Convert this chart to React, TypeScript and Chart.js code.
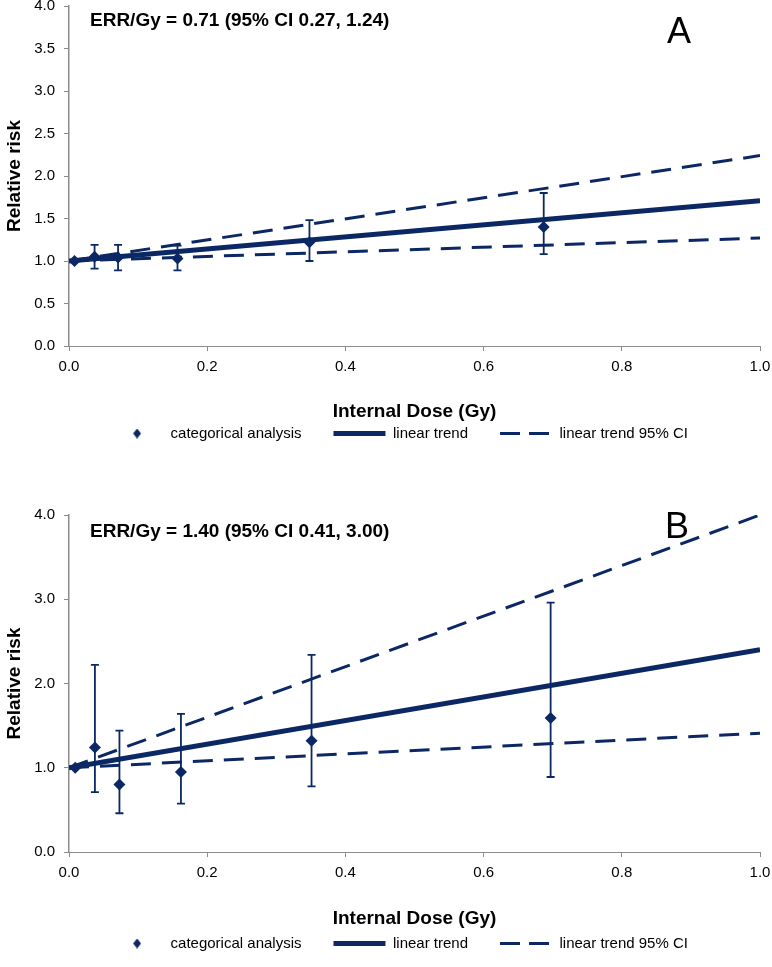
import React, { useEffect, useRef } from 'react';
import { Chart, registerables } from 'chart.js';

Chart.register(...registerables);

const NAVY = '#0b2865';
const AXIS = '#8c8c8c';
const FONT = '"Liberation Sans", Arial, Helvetica, sans-serif';

// shared
const trendDose = [0, 1];
const xTicksStep = 0.2;
const legendLabels = ['categorical analysis', 'linear trend', 'linear trend 95% CI'];

// Panel A
const errTextA = 'ERR/Gy = 0.71 (95% CI 0.27, 1.24)';
const doseA = [0.008, 0.037, 0.071, 0.157, 0.348, 0.687];
const rrA = [1.0, 1.05, 1.04, 1.03, 1.22, 1.40];
const lowA = [null, 0.91, 0.89, 0.89, 1.0, 1.08];
const highA = [null, 1.19, 1.19, 1.18, 1.48, 1.8];
const trendA = [1.0, 1.71];
const ciHighA = [1.0, 2.24];
const ciLowA = [1.0, 1.27];

// Panel B
const errTextB = 'ERR/Gy = 1.40 (95% CI 0.41, 3.00)';
const doseB = [0.009, 0.0375, 0.073, 0.162, 0.351, 0.697];
const rrB = [1.0, 1.24, 0.8, 0.95, 1.32, 1.59];
const lowB = [null, 0.71, 0.46, 0.575, 0.78, 0.89];
const highB = [null, 2.22, 1.44, 1.64, 2.34, 2.96];
const trendB = [1.0, 2.4];
const ciHighB = [1.0, 4.0];
const ciLowB = [1.0, 1.41];

const errorBarPlugin = {
  id: 'errorBars',
  afterDatasetsDraw(chart: any) {
    const { ctx } = chart;
    const xs = chart.scales.x;
    const ys = chart.scales.y;
    const ds = chart.data.datasets[0];
    ctx.save();
    ctx.strokeStyle = NAVY;
    ctx.lineWidth = 1.8;
    ds.data.forEach((p: any) => {
      if (p.lo == null || p.hi == null) return;
      const px = xs.getPixelForValue(p.x);
      const y1 = ys.getPixelForValue(p.lo);
      const y2 = ys.getPixelForValue(p.hi);
      ctx.beginPath();
      ctx.moveTo(px, y1);
      ctx.lineTo(px, y2);
      ctx.moveTo(px - 4, y1);
      ctx.lineTo(px + 4, y1);
      ctx.moveTo(px - 4, y2);
      ctx.lineTo(px + 4, y2);
      ctx.stroke();
    });
    ctx.restore();
  },
};

const panelTextPlugin = {
  id: 'panelText',
  afterDraw(chart: any, _args: any, opts: any) {
    const { ctx, chartArea } = chart;
    ctx.save();
    ctx.fillStyle = '#000';
    ctx.textAlign = 'left';
    ctx.textBaseline = 'alphabetic';
    ctx.font = `bold 19px ${FONT}`;
    ctx.fillText(opts.text, chartArea.left + opts.textDx, chartArea.top + opts.textDy);
    ctx.font = `36px ${FONT}`;
    ctx.fillText(opts.letter, chartArea.left + opts.letterDx, chartArea.top + opts.letterDy);
    ctx.restore();
  },
};

function makeDiamond() {
  const c = document.createElement('canvas');
  c.width = 8;
  c.height = 10;
  const g = c.getContext('2d')!;
  g.fillStyle = NAVY;
  g.beginPath();
  g.moveTo(4, 0);
  g.lineTo(8, 5);
  g.lineTo(4, 10);
  g.lineTo(0, 5);
  g.closePath();
  g.fill();
  return c;
}

function buildConfig(p: any) {
  const diamond = makeDiamond();
  return {
    type: 'scatter',
    data: {
      datasets: [
        {
          label: legendLabels[0],
          data: p.dose.map((d: number, i: number) => ({ x: d, y: p.rr[i], lo: p.low[i], hi: p.high[i] })),
          pointStyle: 'rectRot',
          pointRadius: 6,
          pointHoverRadius: 6,
          backgroundColor: NAVY,
          borderColor: NAVY,
          borderWidth: 0,
          showLine: false,
        },
        {
          label: legendLabels[1],
          data: trendDose.map((d, i) => ({ x: d, y: p.trend[i] })),
          showLine: true,
          borderColor: NAVY,
          backgroundColor: NAVY,
          borderWidth: 5,
          pointRadius: 0,
        },
        {
          label: legendLabels[2],
          data: trendDose.map((d, i) => ({ x: d, y: p.ciHigh[i] })),
          showLine: true,
          borderColor: NAVY,
          backgroundColor: NAVY,
          borderWidth: 3,
          borderDash: [20, 11],
          pointRadius: 0,
        },
        {
          label: legendLabels[2] + ' lower',
          data: trendDose.map((d, i) => ({ x: d, y: p.ciLow[i] })),
          showLine: true,
          borderColor: NAVY,
          backgroundColor: NAVY,
          borderWidth: 3,
          borderDash: [20, 11],
          pointRadius: 0,
        },
      ],
    },
    options: {
      responsive: false,
      animation: false,
      events: [],
      layout: { padding: { top: 10, left: 27, right: 0, bottom: p.padBottom } },
      plugins: {
        tooltip: { enabled: false },
        legend: {
          position: 'bottom',
          align: 'center',
          onClick: () => {},
          labels: {
            usePointStyle: true,
            pointStyleWidth: 52,
            padding: 32,
            color: '#000',
            font: { family: FONT, size: 15 },
            generateLabels: () => [
              { text: legendLabels[0], pointStyle: diamond, fillStyle: NAVY, strokeStyle: NAVY, lineWidth: 0, datasetIndex: 0, fontColor: '#000' },
              { text: legendLabels[1], pointStyle: 'line', fillStyle: NAVY, strokeStyle: NAVY, lineWidth: 5, datasetIndex: 1, fontColor: '#000' },
              { text: legendLabels[2], pointStyle: 'line', fillStyle: NAVY, strokeStyle: NAVY, lineWidth: 3, lineDash: [20, 9], datasetIndex: 2, fontColor: '#000' },
            ],
          },
        },
        panelText: {
          text: p.errText,
          letter: p.letter,
          textDx: 21,
          textDy: p.textDy,
          letterDx: p.letterDx,
          letterDy: p.letterDy,
        },
      },
      scales: {
        x: {
          type: 'linear',
          min: 0,
          max: 1,
          ticks: {
            stepSize: xTicksStep,
            callback: (v: number) => Number(v).toFixed(1),
            color: '#000',
            font: { family: FONT, size: 15 },
            padding: 7,
          },
          grid: { display: true, drawOnChartArea: false, drawTicks: true, tickLength: 5, color: AXIS },
          border: { display: true, color: AXIS, width: 1 },
          title: {
            display: true,
            text: 'Internal Dose (Gy)',
            color: '#000',
            font: { family: FONT, size: 19, weight: 'bold' },
            padding: { top: 0, bottom: p.xTitlePad },
          },
          afterFit: (s: any) => {
            s.height = p.xAxisH;
            s.paddingLeft = 0;
            s.paddingRight = 12;
          },
        },
        y: {
          type: 'linear',
          min: 0,
          max: 4,
          ticks: {
            stepSize: p.yStep,
            callback: (v: number) => Number(v).toFixed(1),
            color: '#000',
            font: { family: FONT, size: 15 },
            padding: 9,
          },
          grid: { display: true, drawOnChartArea: false, drawTicks: true, tickLength: 5, color: AXIS },
          border: { display: true, color: AXIS, width: 1.5 },
          title: {
            display: true,
            text: 'Relative risk',
            color: '#000',
            font: { family: FONT, size: 19, weight: 'bold' },
            padding: { top: -24, bottom: 0 },
          },
          afterFit: (s: any) => {
            s.width = 42;
            s.paddingTop = 0;
            s.paddingBottom = 0;
          },
        },
      },
    },
    plugins: [errorBarPlugin, panelTextPlugin],
  };
}

function Panel(props: { top: number; height: number; params: any }) {
  const ref = useRef<HTMLCanvasElement | null>(null);
  useEffect(() => {
    if (!ref.current) return;
    const chart = new Chart(ref.current, buildConfig(props.params) as any);
    return () => chart.destroy();
  }, []);
  return (
    <div style={{ position: 'absolute', left: 0, top: props.top, width: 772, height: props.height }}>
      <canvas ref={ref} width={772} height={props.height} style={{ display: 'block' }} />
    </div>
  );
}

const paramsA = {
  dose: doseA, rr: rrA, low: lowA, high: highA,
  trend: trendA, ciHigh: ciHighA, ciLow: ciLowA,
  yStep: 0.5, errText: errTextA, letter: 'A',
  textDy: 20, letterDx: 598, letterDy: 37,
  xAxisH: 48, xTitlePad: -29.4, padBottom: 0,
};

const paramsB = {
  dose: doseB, rr: rrB, low: lowB, high: highB,
  trend: trendB, ciHigh: ciHighB, ciLow: ciLowB,
  yStep: 1, errText: errTextB, letter: 'B',
  textDy: 22, letterDx: 596, letterDy: 23,
  xAxisH: 52, xTitlePad: -26.4, padBottom: 6,
};

export default function App() {
  useEffect(() => {
    document.body.style.margin = '0';
  }, []);
  return (
    <div style={{ position: 'absolute', left: 0, top: 0, width: 772, height: 967, background: '#fff', overflow: 'hidden' }}>
      <Panel top={-4} height={455} params={paramsA} />
      <Panel top={505} height={462} params={paramsB} />
    </div>
  );
}
